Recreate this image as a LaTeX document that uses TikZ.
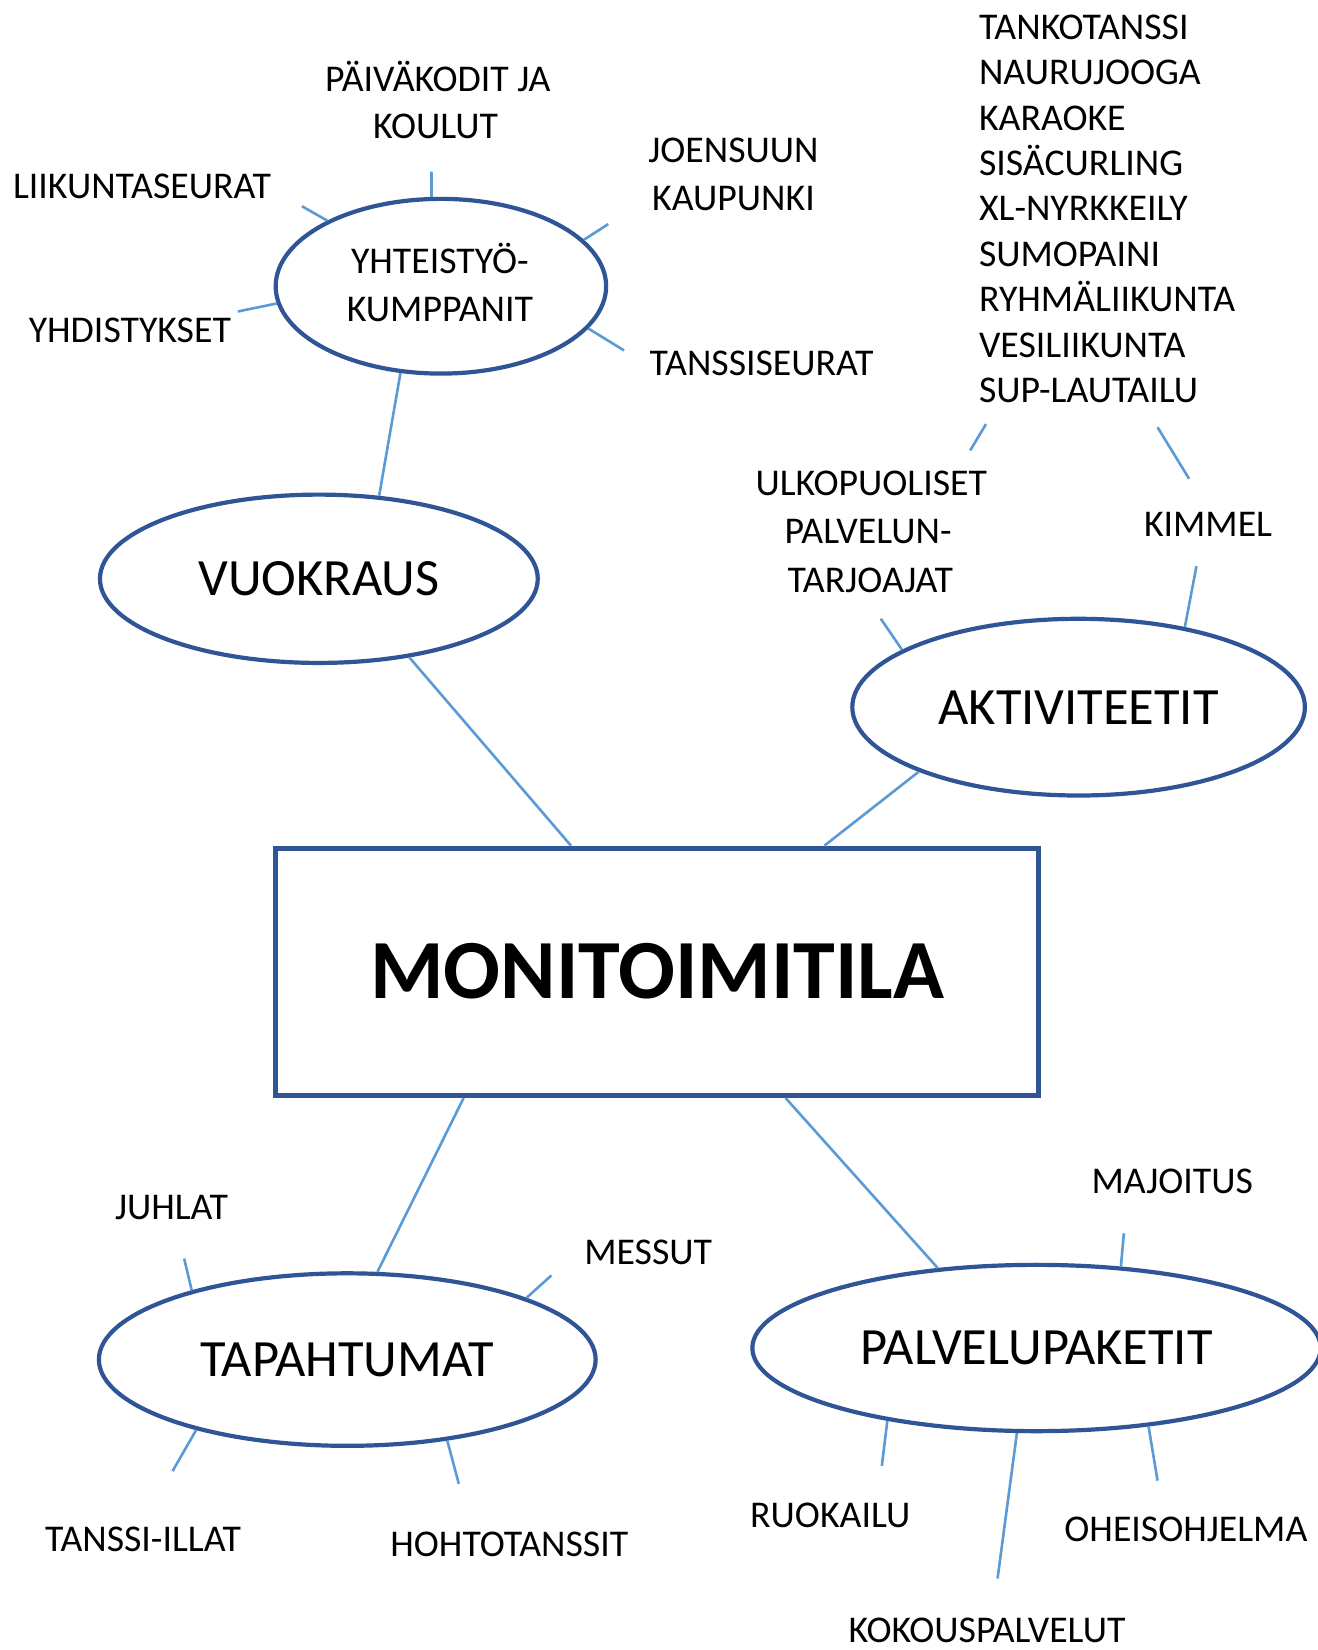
\documentclass[tikz,border=0pt]{standalone}
\usepackage{fontspec}
\setmainfont{Carlito}
\usetikzlibrary{shapes.geometric,calc}
\definecolor{dkblue}{HTML}{2F5597}
\definecolor{ltblue}{HTML}{5B9BD5}
\begin{document}
\begin{tikzpicture}[x=0.5264pt,y=-0.5264pt,
  lab/.style={font=\fontsize{18.9}{22}\selectfont, text height=12.2pt, text depth=0pt, inner sep=0pt},
  oval/.style={ellipse, draw=dkblue, line width=2.1pt, inner sep=0pt, font=\fontsize{26.2}{30}\selectfont, text height=16.9pt, text depth=0pt},
  conn/.style={draw=ltblue, line width=1.3pt},
  mainbox/.style={rectangle, draw=dkblue, line width=2.6pt, font=\bfseries\fontsize{42.1}{50}\selectfont, text height=27.1pt, text depth=0pt, inner sep=0pt}]
\fill[white] (0,0) rectangle (1252,1568);
\useasboundingbox (0,0) rectangle (1252,1568);

% main shapes
\node[oval, minimum width=165.3pt, minimum height=87.4pt] (yht) at (419,272) {};
\node[lab] (yht1) at (418,248) {YHTEISTYÖ-};
\node[lab] (yht2) at (418,294) {KUMPPANIT};
\node[oval, minimum width=219pt, minimum height=84.2pt] (vuok) at (303,550) {VUOKRAUS};
\node[oval, minimum width=226.4pt, minimum height=88.4pt] (aktiv) at (1025,672) {AKTIVITEETIT};
\node[oval, minimum width=248.5pt, minimum height=86.3pt] (tapah) at (330,1292) {TAPAHTUMAT};
\node[oval, minimum width=284.3pt, minimum height=83.2pt] (palv) at (985,1281) {PALVELUPAKETIT};
\node[mainbox, minimum width=381.6pt, minimum height=123.7pt] (main) at (624.5,923.5) {MONITOIMITILA};

% labels
\node[lab] (paiv1) at (416,75) {PÄIVÄKODIT JA};
\node[lab] (paiv2) at (414,120) {KOULUT};
\node[lab, anchor=west] (liik) at (12,177) {LIIKUNTASEURAT};
\node[lab] (joen1) at (697,143) {JOENSUUN};
\node[lab] (joen2) at (697,188) {KAUPUNKI};
\node[lab, anchor=west] (yhd) at (27,314) {YHDISTYKSET};
\node[lab, anchor=west] (tanss) at (617,345) {TANSSISEURAT};
\foreach \t [count=\i from 0] in {TANKOTANSSI,NAURUJOOGA,KARAOKE,SISÄCURLING,XL-NYRKKEILY,SUMOPAINI,RYHMÄLIIKUNTA,VESILIIKUNTA,SUP-LAUTAILU}
  \node[lab, anchor=west] (list\i) at (930,{26+43.1*\i}) {\t};
\node[lab] (ulko1) at (828,459) {ULKOPUOLISET};
\node[lab] (ulko2) at (825,505) {PALVELUN-};
\node[lab] (ulko3) at (827,551) {TARJOAJAT};
\node[lab] (kimmel) at (1148,498) {KIMMEL};
\node[lab] (juhlat) at (163,1147) {JUHLAT};
\node[lab] (messut) at (616,1190) {MESSUT};
\node[lab] (illat) at (136,1463) {TANSSI-ILLAT};
\node[lab] (hohto) at (484,1468) {HOHTOTANSSIT};
\node[lab] (majoitus) at (1114,1123) {MAJOITUS};
\node[lab] (ruokailu) at (789,1440) {RUOKAILU};
\node[lab] (oheis) at (1127,1453) {OHEISOHJELMA};
\node[lab] (kokous) at (938,1549) {KOKOUSPALVELUT};

% main connectors
\draw[conn] (yht.-115) -- (vuok.54);
\draw[conn] (vuok.-41) -- ($(main.north west)+(283,0)$);
\draw[conn] (aktiv.-158) -- ($(main.north west)+(524,0)$);
\draw[conn] ($(main.south west)+(181,0)$) -- (tapah.71);
\draw[conn] ($(main.south west)+(487,0)$) -- (palv.141);

% free ends
\coordinate (ePaiv) at (410,163);
\coordinate (eLiik) at (287,196);
\coordinate (eJoen) at (578,213);
\coordinate (eYhd) at (226,296);
\coordinate (eTanss) at (593,333);
\coordinate (eL1a) at (937,403);
\coordinate (eL1b) at (922,428);
\coordinate (eL2a) at (1100,406);
\coordinate (eL2b) at (1130,455);
\coordinate (eUlko) at (837,588);
\coordinate (eKim) at (1137,538);
\coordinate (eJuh) at (175,1196);
\coordinate (eMes) at (524,1212);
\coordinate (eIll) at (164,1398);
\coordinate (eHoh) at (436,1410);
\coordinate (eMaj) at (1068,1172);
\coordinate (eRuo) at (838,1393);
\coordinate (eKok) at (948,1500);
\coordinate (eOhe) at (1100,1407);

% stubs
\draw[conn] (yht.96) -- (ePaiv);
\draw[conn] (yht.150) -- (eLiik);
\draw[conn] (yht.18) -- (eJoen);
\draw[conn] (yht.-174) -- (eYhd);
\draw[conn] (yht.-16) -- (eTanss);
\draw[conn] (eL1a) -- (eL1b);
\draw[conn] (eL2a) -- (eL2b);
\draw[conn] (aktiv.162) -- (eUlko);
\draw[conn] (aktiv.37) -- (eKim);
\draw[conn] (tapah.156) -- (eJuh);
\draw[conn] (tapah.19) -- (eMes);
\draw[conn] (tapah.-155) -- (eIll);
\draw[conn] (tapah.-39) -- (eHoh);
\draw[conn] (palv.44) -- (eMaj);
\draw[conn] (palv.-154) -- (eRuo);
\draw[conn] (palv.-103) -- (eKok);
\draw[conn] (palv.-35) -- (eOhe);
\end{tikzpicture}
\end{document}
